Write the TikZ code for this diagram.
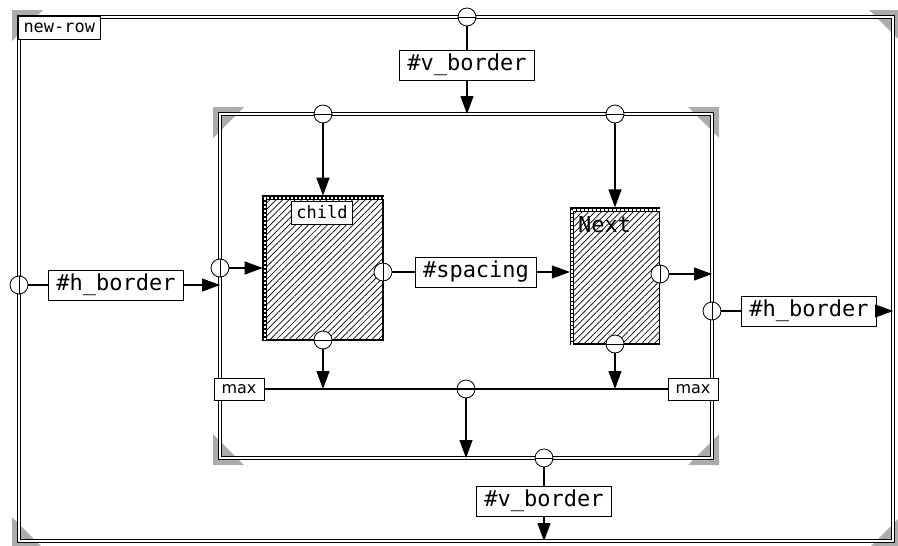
\documentclass[tikz,border=0pt]{standalone}
\usepackage{fontspec}
\newfontfamily\monofont{DejaVu Sans Mono}
\newfontfamily\labelsans{DejaVu Sans}
\usetikzlibrary{arrows.meta, positioning, patterns.meta, calc}

\tikzset{
  frame/.style={double, double distance=2.2pt, line width=1.1pt},
  port/.style={circle, draw, fill=white, line width=0.8pt, minimum size=18pt, inner sep=0pt},
  hport/.style={port, path picture={\draw[line width=1pt] (path picture bounding box.west) -- (path picture bounding box.east);}},
  vport/.style={port, path picture={\draw[line width=1pt] (path picture bounding box.north) -- (path picture bounding box.south);}},
  param/.style={draw, fill=white, line width=1pt, font=\monofont\fontsize{22}{22}\selectfont, minimum height=30pt, inner xsep=8pt, inner ysep=0pt},
  tag/.style={draw, fill=white, line width=1pt, font=\monofont\fontsize{17}{17}\selectfont, minimum height=23pt, inner xsep=5pt, inner ysep=0pt},
  maxbox/.style={draw, fill=white, line width=1pt, font=\labelsans\fontsize{16}{16}\selectfont, minimum height=22pt, minimum width=50pt, inner sep=0pt},
  wire/.style={line width=1.2pt},
  arr/.style={wire, -{Triangle[length=18pt,width=13pt]}},
  cell/.style={draw, line width=1.2pt, pattern={Lines[angle=45,distance=4.5pt,line width=0.7pt]}},
  ladder/.style={line width=4.5pt, postaction={draw=white, line width=2pt, dash pattern=on 2.5pt off 1.5pt}},
  corner/.style={fill=gray!65, draw=none}
}

\begin{document}
\begin{tikzpicture}[x=1pt, y=-1pt]
  \useasboundingbox (0,0) rectangle (898,546);
  % frame corners
  \coordinate (outerNW) at (19,17);
  \coordinate (outerSE) at (893,541);
  \coordinate (innerNW) at (220,114);
  \coordinate (innerSE) at (712,458);
  % shaded corner marks
  \foreach \cx/\cy/\sx/\sy in {19/17/-1/-1, 893/17/1/-1, 19/541/-1/1, 893/541/1/1,
                               220/114/-1/-1, 712/114/1/-1, 220/458/-1/1, 712/458/1/1} {
    \fill[corner] ({\cx+7*\sx},{\cy+7*\sy}) -- ++({-31*\sx},0) -- ++({31*\sx},{-31*\sy}) -- cycle;
  }
  % row and inner frames
  \draw[frame] (outerNW) rectangle (outerSE);
  \draw[frame] (innerNW) rectangle (innerSE);
  \node[tag, anchor=north west] (title) at (18,16) {new-row};

  % the two cells
  \node[cell, minimum width=120pt, minimum height=144pt] (child) at (323,268) {};
  \node[cell, minimum width=89pt, minimum height=136pt] (next) at (615,276) {};
  \draw[ladder] ([shift={(2.3,0)}]child.south west) -- ([shift={(2.3,2.3)}]child.north west) -- ([shift={(0,2.3)}]child.north east);
  \draw[ladder] ([shift={(2.3,0)}]next.south west) -- ([shift={(2.3,2.3)}]next.north west) -- ([shift={(0,2.3)}]next.north east);
  \node[tag] (childTag) at (322,212.5) {child};
  \node[font=\monofont\fontsize{22}{22}\selectfont, anchor=base west, inner sep=0pt] (nextTag) at (578,232) {Next};

  % parameter boxes
  \node[param] (vbT) at (467,65) {\#v\_border};
  \node[param] (vbB) at (544,501) {\#v\_border};
  \node[param] (hbW) at (116,285) {\#h\_border};
  \node[param] (hbE) at (809,311) {\#h\_border};
  \node[param] (spacing) at (476,272) {\#spacing};
  \node[maxbox] (maxW) at (239,389) {max};
  \node[maxbox] (maxE) at (693,389) {max};

  % ports
  \node[hport] (pOutN) at (467,17) {};
  \node[vport] (pOutW) at (19,285) {};
  \node[hport] (pChN) at (323,114) {};
  \node[hport] (pNxN) at (615,114) {};
  \node[vport] (pInW) at (220,268) {};
  \node[vport] (pChE) at (383,272) {};
  \node[vport] (pNxE) at (660,274) {};
  \node[vport] (pInE) at (712,311) {};
  \node[hport] (pChS) at (323,340) {};
  \node[hport] (pNxS) at (615,344) {};
  \node[hport] (pMax) at (466,389) {};
  \node[hport] (pInS) at (544,458) {};

  % connectors
  \draw[wire] (pOutN) -- (vbT);
  \draw[arr] (vbT) -- (vbT |- innerNW);
  \draw[arr] (pChN) -- (child.north);
  \draw[arr] (pNxN) -- (next.north);
  \draw[wire] (pOutW) -- (hbW);
  \draw[arr] (hbW) -- (hbW -| innerNW);
  \draw[arr] (pInW) -- (child.west);
  \draw[wire] (pChE) -- (spacing);
  \draw[arr] (spacing) -- (spacing -| next.west);
  \draw[arr] (pNxE) -- (pNxE -| innerSE);
  \draw[wire] (pInE) -- (hbE);
  \draw[arr] (hbE) -- (hbE -| outerSE);
  \draw[wire] (maxW) -- (maxE);
  \draw[arr] (pChS) -- (pChS |- maxW);
  \draw[arr] (pNxS) -- (pNxS |- maxE);
  \draw[arr] (pMax) -- (pMax |- innerSE);
  \draw[wire] (pInS) -- (vbB);
  \draw[arr] (vbB) -- (vbB |- outerSE);
\end{tikzpicture}
\end{document}
